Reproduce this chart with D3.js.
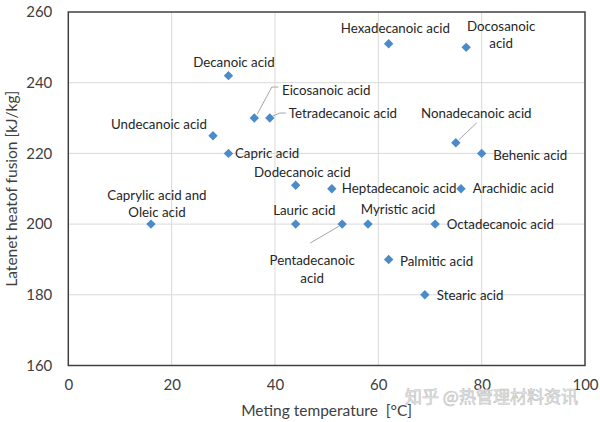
<!DOCTYPE html>
<html><head><meta charset="utf-8">
<script src="https://cdn.jsdelivr.net/npm/d3@7"></script>
<style>body{margin:0;background:#fff}svg{display:block}</style>
</head><body>
<svg id="c" width="600" height="422"></svg>
<script>
const names = ["Caprylic acid and|Oleic acid","Undecanoic acid","Decanoic acid","Capric acid","Eicosanoic acid","Tetradecanoic acid","Dodecanoic acid","Lauric acid","Heptadecanoic acid","Pentadecanoic|acid","Myristic acid","Palmitic acid","Hexadecanoic acid","Stearic acid","Octadecanoic acid","Nonadecanoic acid","Arachidic acid","Docosanoic|acid","Behenic acid"];
const meltTemp = [16,28,31,31,36,39,44,44,51,53,58,62,62,69,71,75,76,77,80];
const latentHeat = [200,225,242,220,230,230,211,200,210,200,200,190,251,180,200,223,210,250,220];
const xTicks = [0,20,40,60,80,100];
const yTicks = [160,180,200,220,240,260];
// label layout: [anchor, dx, dy(first line), line gap]
const labelLayout = [["middle",6,-29,17],["end",-6,-11,0],["middle",5.5,-13.6,0],["start",6.5,0,0],["start",27.7,-27.3,0],["start",19,-4.7,0],["middle",6.7,-12.5,0],["middle",8.6,-13.3,0],["start",10,0,0],["middle",-30,36.4,17.6],["middle",30,-15,0],["start",11.3,1.5,0],["middle",6.7,-15.5,0],["start",12,1,0],["start",11.5,0.7,0],["middle",20.5,-29.5,0],["start",11.7,0,0],["middle",35,-20.7,16.7],["start",11.6,1.6,0]];
// leader lines in pixel offsets from point: index -> list of [dx,dy]
const leaders = {4:[[3,-4],[17.5,-31],[24,-31]],5:[[3,-2],[10,-5],[16,-5]],9:[[-3,2],[-32,19]],15:[[3,-3],[21,-20]]};

const svg = d3.select("#c");
const m = {l:68.3, r:585, t:12, b:365.5};
const x = d3.scaleLinear().domain([0,100]).range([m.l,m.r]);
const y = d3.scaleLinear().domain([160,260]).range([m.b,m.t]);
const font = "Lato, 'Open Sans', sans-serif";

// gridlines
svg.append("g").selectAll("line.v").data(xTicks.slice(1,-1)).join("line")
  .attr("x1",d=>x(d)).attr("x2",d=>x(d)).attr("y1",m.t).attr("y2",m.b)
  .attr("stroke","#d9d9d9").attr("stroke-width",1);
svg.append("g").selectAll("line.h").data(yTicks.slice(1,-1)).join("line")
  .attr("y1",d=>y(d)).attr("y2",d=>y(d)).attr("x1",m.l).attr("x2",m.r)
  .attr("stroke","#d9d9d9").attr("stroke-width",1);

// axes
const xAxis = svg.append("g").attr("transform",`translate(0,${m.b})`)
  .call(d3.axisBottom(x).tickValues(xTicks).tickSize(0).tickPadding(14));
const yAxis = svg.append("g").attr("transform",`translate(${m.l},0)`)
  .call(d3.axisLeft(y).tickValues(yTicks).tickSize(0).tickPadding(16));
[xAxis,yAxis].forEach(a=>{
  a.select(".domain").remove();
  a.selectAll("text").attr("font-family",font).attr("font-size",15).attr("fill","#404040");
});
// frame
svg.append("rect").attr("x",m.l).attr("y",m.t).attr("width",m.r-m.l).attr("height",m.b-m.t)
  .attr("fill","none").attr("stroke","#404040").attr("stroke-width",1.5);

// axis titles
svg.append("text").attr("x",(m.l+m.r)/2).attr("y",416).attr("text-anchor","middle")
  .attr("font-family",font).attr("font-size",15.5).attr("fill","#404040")
  .text("Meting temperature\u00a0\u00a0[°C]");
svg.append("text").attr("transform",`translate(17,${(m.t+m.b)/2}) rotate(-90)`)
  .attr("text-anchor","middle").attr("font-family",font).attr("font-size",15.5).attr("fill","#404040")
  .text("Latenet heatof fusion [kJ/kg]");

const pts = names.map((n,i)=>({n, px:x(meltTemp[i]), py:y(latentHeat[i]), i}));

// leaders
Object.entries(leaders).forEach(([i,l])=>{
  const p = pts[+i];
  svg.append("path").attr("d", d3.line()(l.map(o=>[p.px+o[0],p.py+o[1]])))
    .attr("fill","none").attr("stroke","#a6a6a6").attr("stroke-width",1);
});

// markers
svg.append("g").selectAll("path").data(pts).join("path")
  .attr("d", d3.symbol().type(d3.symbolSquare).size(44))
  .attr("transform", d=>`translate(${d.px},${d.py}) rotate(45)`)
  .attr("fill","#4a8bc9");

// labels
pts.forEach(p=>{
  const L = labelLayout[p.i];
  const lines = p.n.split("|");
  const t = svg.append("text").attr("text-anchor",L[0]).attr("font-family",font)
    .attr("font-size",13.3).attr("fill","#262626");
  lines.forEach((s,k)=>{
    t.append("tspan").attr("x",p.px+L[1]).attr("y",p.py+L[2]+k*L[3]).attr("dy","0.35em").text(s);
  });
});

// watermark
svg.append("text").attr("x",405).attr("y",397).attr("dy","0.35em")
  .attr("font-family","'Noto Sans CJK SC', sans-serif").attr("font-size",17)
  .attr("fill","#e8e8e8").attr("stroke","#c4c4c4").attr("stroke-width",0.6)
  .text("知乎 @热管理材料资讯");
</script>
</body></html>
